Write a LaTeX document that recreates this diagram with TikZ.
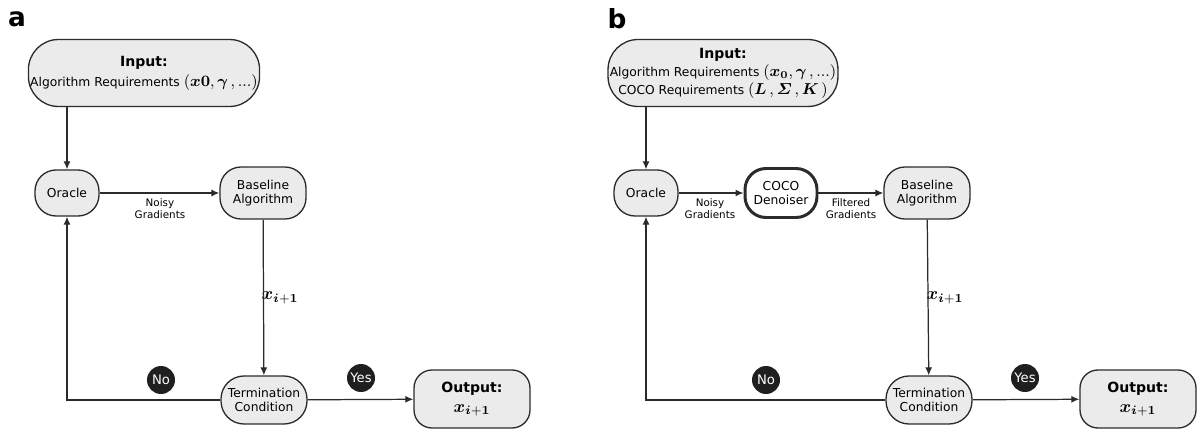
\documentclass[tikz,border=0pt]{standalone}
\usepackage[no-math]{fontspec}
\setmainfont{DejaVu Sans}
\usepackage{amsmath,bm}
\usetikzlibrary{arrows.meta,positioning}
\definecolor{boxgray}{HTML}{EBEBEB}
\definecolor{linegray}{HTML}{2B2B2B}
\newcommand{\bodysize}{\fontsize{7}{8.2}\selectfont}
\newcommand{\labsize}{\fontsize{5.9}{6.8}\selectfont}
\newcommand{\mathsize}{\fontsize{9}{9.5}\selectfont}
\newcommand{\xsize}{\fontsize{10}{10}\selectfont}
\tikzset{
  flow/input/.style={draw=linegray, fill=boxgray, line width=0.75pt, rounded corners=0.6cm, minimum width=4.36cm, minimum height=1.34cm, align=center, inner sep=1pt, font=\bodysize},
  flow/stepbox/.style={draw=linegray, fill=boxgray, line width=0.75pt, rounded corners=0.42cm, minimum height=0.98cm, align=center, inner sep=1pt, font=\bodysize},
  flow/coco/.style={flow/stepbox, fill=white, line width=1.7pt, minimum width=1.44cm},
  flow/output/.style={draw=linegray, fill=boxgray, line width=0.75pt, rounded corners=0.36cm, minimum width=2.32cm, minimum height=1.16cm, align=center, inner sep=1pt, font=\bodysize},
  flow/answer/.style={circle, fill=black!88, text=white, minimum size=0.56cm, inner sep=0pt, font=\fontsize{7.5}{8}\selectfont},
  flow/label/.style={font=\labsize, align=center, inner sep=1pt},
  flow/panel/.style={font=\fontsize{15}{15}\selectfont\bfseries, inner sep=0pt},
  arr/.style={-{Latex[length=1.6mm,width=1.4mm]}, line width=0.7pt, draw=linegray}
}
\newcommand{\xnext}{$\boldsymbol{x}_{\boldsymbol{i}+\mathbf{1}}$}

\begin{document}
\begin{tikzpicture}[x=0.02cm,y=-0.02cm]
  \useasboundingbox (0,0) rectangle (1200,429);
  % panel a
  \node[flow/panel] (pa) at (17,19) {a};
  \node[flow/input] (ina) at (144,73) {{\fontsize{8}{9}\selectfont\bfseries Input:}\\[2pt]
    Algorithm Requirements {\mathsize$(\boldsymbol{x}\mathbf{0},\boldsymbol{\gamma}\,,\mathbf{...})$}};
  \node[flow/stepbox, minimum width=1.28cm, minimum height=0.92cm] (ora) at (67,193) {Oracle};
  \node[flow/stepbox, minimum width=1.72cm, minimum height=1.04cm] (basea) at (263,193) {Baseline\\Algorithm};
  \node[flow/stepbox, minimum width=1.72cm, minimum height=0.96cm, rounded corners=0.46cm] (terma) at (264,400) {Termination\\Condition};
  \node[flow/output] (outa) at (472,399) {{\fontsize{8}{9}\selectfont\bfseries Output:}\\[3pt]{\xsize\xnext}};
  \node[flow/answer] (noa) at (161,380) {No};
  \node[flow/answer] (yesa) at (361,378) {Yes};
  \node[flow/label] (noisya) at (160,209) {Noisy\\Gradients};
  \node[flow/label, font=\xsize] (xa) at (280,298) {\xnext};
  \draw[arr] (ora |- ina.south) -- (ora.north);
  \draw[arr] (ora) -- (basea);
  \draw[arr] (basea) -- (terma);
  \draw[arr] (terma) -- (outa);
  \draw[arr] (terma.west) -| (ora.south);
  % panel b
  \node[flow/panel] (pb) at (617,19) {b};
  \node[flow/input] (inb) at (723,73) {{\fontsize{8}{9}\selectfont\bfseries Input:}\\[1pt]
    Algorithm Requirements {\mathsize$(\boldsymbol{x}_{\mathbf{0}},\boldsymbol{\gamma}\,,\mathbf{...})$}\\
    COCO Requirements {\mathsize$(\boldsymbol{L}\,,\boldsymbol{\varSigma}\,,\boldsymbol{K}\,)$}};
  \node[flow/stepbox, minimum width=1.28cm, minimum height=0.92cm] (orb) at (646,193) {Oracle};
  \node[flow/coco] (coco) at (781,193) {COCO\\Denoiser};
  \node[flow/stepbox, minimum width=1.72cm, minimum height=1.04cm] (baseb) at (927,193) {Baseline\\Algorithm};
  \node[flow/stepbox, minimum width=1.72cm, minimum height=0.96cm, rounded corners=0.46cm] (termb) at (929,400) {Termination\\Condition};
  \node[flow/output] (outb) at (1138,399) {{\fontsize{8}{9}\selectfont\bfseries Output:}\\[3pt]{\xsize\xnext}};
  \node[flow/answer] (nob) at (766,380) {No};
  \node[flow/answer] (yesb) at (1025,378) {Yes};
  \node[flow/label] (noisyb) at (710,209) {Noisy\\Gradients};
  \node[flow/label] (filtb) at (851,209) {Filtered\\Gradients};
  \node[flow/label, font=\xsize] (xb) at (945,298) {\xnext};
  \draw[arr] (orb |- inb.south) -- (orb.north);
  \draw[arr] (orb) -- (coco);
  \draw[arr] (coco) -- (baseb);
  \draw[arr] (baseb) -- (termb);
  \draw[arr] (termb) -- (outb);
  \draw[arr] (termb.west) -| (orb.south);
\end{tikzpicture}
\end{document}
